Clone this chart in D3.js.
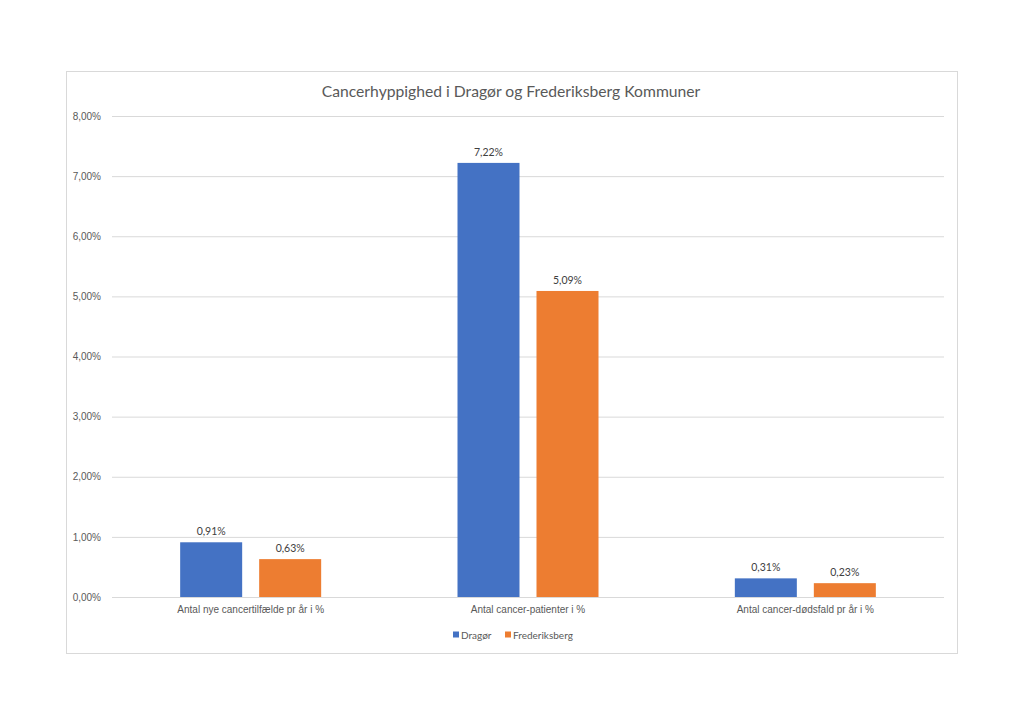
<!DOCTYPE html>
<html>
<head>
<meta charset="utf-8">
<script src="https://cdn.jsdelivr.net/npm/d3@7"></script>
<style>
  body { margin: 0; background: #fff; }
  svg { font-family: Lato, "Open Sans", sans-serif; }
</style>
</head>
<body>
<svg id="chart" width="1024" height="726"></svg>
<script>
// Data
const categories = [
  "Antal nye cancertilfælde pr år i %",
  "Antal cancer-patienter i %",
  "Antal cancer-dødsfald pr år i %"
];
const seriesNames = ["Dragør", "Frederiksberg"];
const dragor = [0.91, 7.22, 0.31];
const frederiksberg = [0.63, 5.09, 0.23];
const yTicks = [0, 1, 2, 3, 4, 5, 6, 7, 8];
const colors = ["#4472C4", "#ED7D31"];

const series = [dragor, frederiksberg];
const fmt = (v) => v.toFixed(2).replace(".", ",") + "%";

const svg = d3.select("#chart");

// chart frame
svg.append("rect")
  .attr("x", 66.5).attr("y", 71.5)
  .attr("width", 891).attr("height", 582)
  .attr("fill", "#fff")
  .attr("stroke", "#d9d9d9");

const plot = { left: 112, right: 944, top: 116, bottom: 597 };

const x = d3.scaleBand()
  .domain(categories)
  .range([plot.left, plot.right]);

// two bars per group, 62px wide with a 17px gap
const barW = 62, barGap = 17;
const xInner = d3.scaleBand()
  .domain(seriesNames)
  .range([-(barW + barGap / 2), barW + barGap / 2])
  .paddingInner(barGap / (barW + barGap));

const y = d3.scaleLinear()
  .domain([0, 8])
  .range([plot.bottom, plot.top]);

// gridlines + y labels
const yAxis = d3.axisLeft(y)
  .tickValues(yTicks)
  .tickSize(-(plot.right - plot.left))
  .tickPadding(11)
  .tickFormat(fmt);

const gy = svg.append("g")
  .attr("transform", `translate(${plot.left},0)`)
  .call(yAxis);
gy.select(".domain").remove();
gy.selectAll(".tick line").attr("stroke", "#d9d9d9");
gy.selectAll(".tick text")
  .attr("fill", "#595959")
  .attr("font-size", 10);

// x labels
const xAxis = d3.axisBottom(x).tickSize(0).tickPadding(9);
const gx = svg.append("g")
  .attr("transform", `translate(0,${plot.bottom})`)
  .call(xAxis);
gx.select(".domain").remove();
gx.selectAll(".tick text")
  .attr("fill", "#595959")
  .attr("font-size", 10);

// bars
const groups = svg.append("g")
  .selectAll("g")
  .data(seriesNames)
  .join("g")
  .attr("fill", (d, i) => colors[i]);

groups.each(function (name, si) {
  const data = categories.map((c, ci) => ({ c, v: series[si][ci] }));
  const g = d3.select(this);
  const bx = (d) => x(d.c) + x.bandwidth() / 2 + xInner(name);
  g.selectAll("rect")
    .data(data)
    .join("rect")
    .attr("x", bx)
    .attr("width", xInner.bandwidth())
    .attr("y", (d) => y(d.v))
    .attr("height", (d) => y(0) - y(d.v));
  g.selectAll("text")
    .data(data)
    .join("text")
    .attr("x", (d) => bx(d) + xInner.bandwidth() / 2)
    .attr("y", (d) => y(d.v) - 7)
    .attr("text-anchor", "middle")
    .attr("fill", "#404040")
    .attr("font-size", 10.5)
    .text((d) => fmt(d.v));
});

// title
svg.append("text")
  .attr("x", 511)
  .attr("y", 97)
  .attr("text-anchor", "middle")
  .attr("fill", "#595959")
  .attr("font-size", 15.7)
  .text("Cancerhyppighed i Dragør og Frederiksberg Kommuner");

// legend
const legendX = [453, 505];
const legend = svg.append("g")
  .selectAll("g")
  .data(seriesNames)
  .join("g")
  .attr("transform", (d, i) => `translate(${legendX[i]},635)`);
legend.append("rect")
  .attr("x", 0).attr("y", -3.5)
  .attr("width", 6).attr("height", 6)
  .attr("fill", (d, i) => colors[i]);
legend.append("text")
  .attr("x", 8)
  .attr("y", 3.5)
  .attr("fill", "#595959")
  .attr("font-size", 10)
  .text((d) => d);
</script>
</body>
</html>
